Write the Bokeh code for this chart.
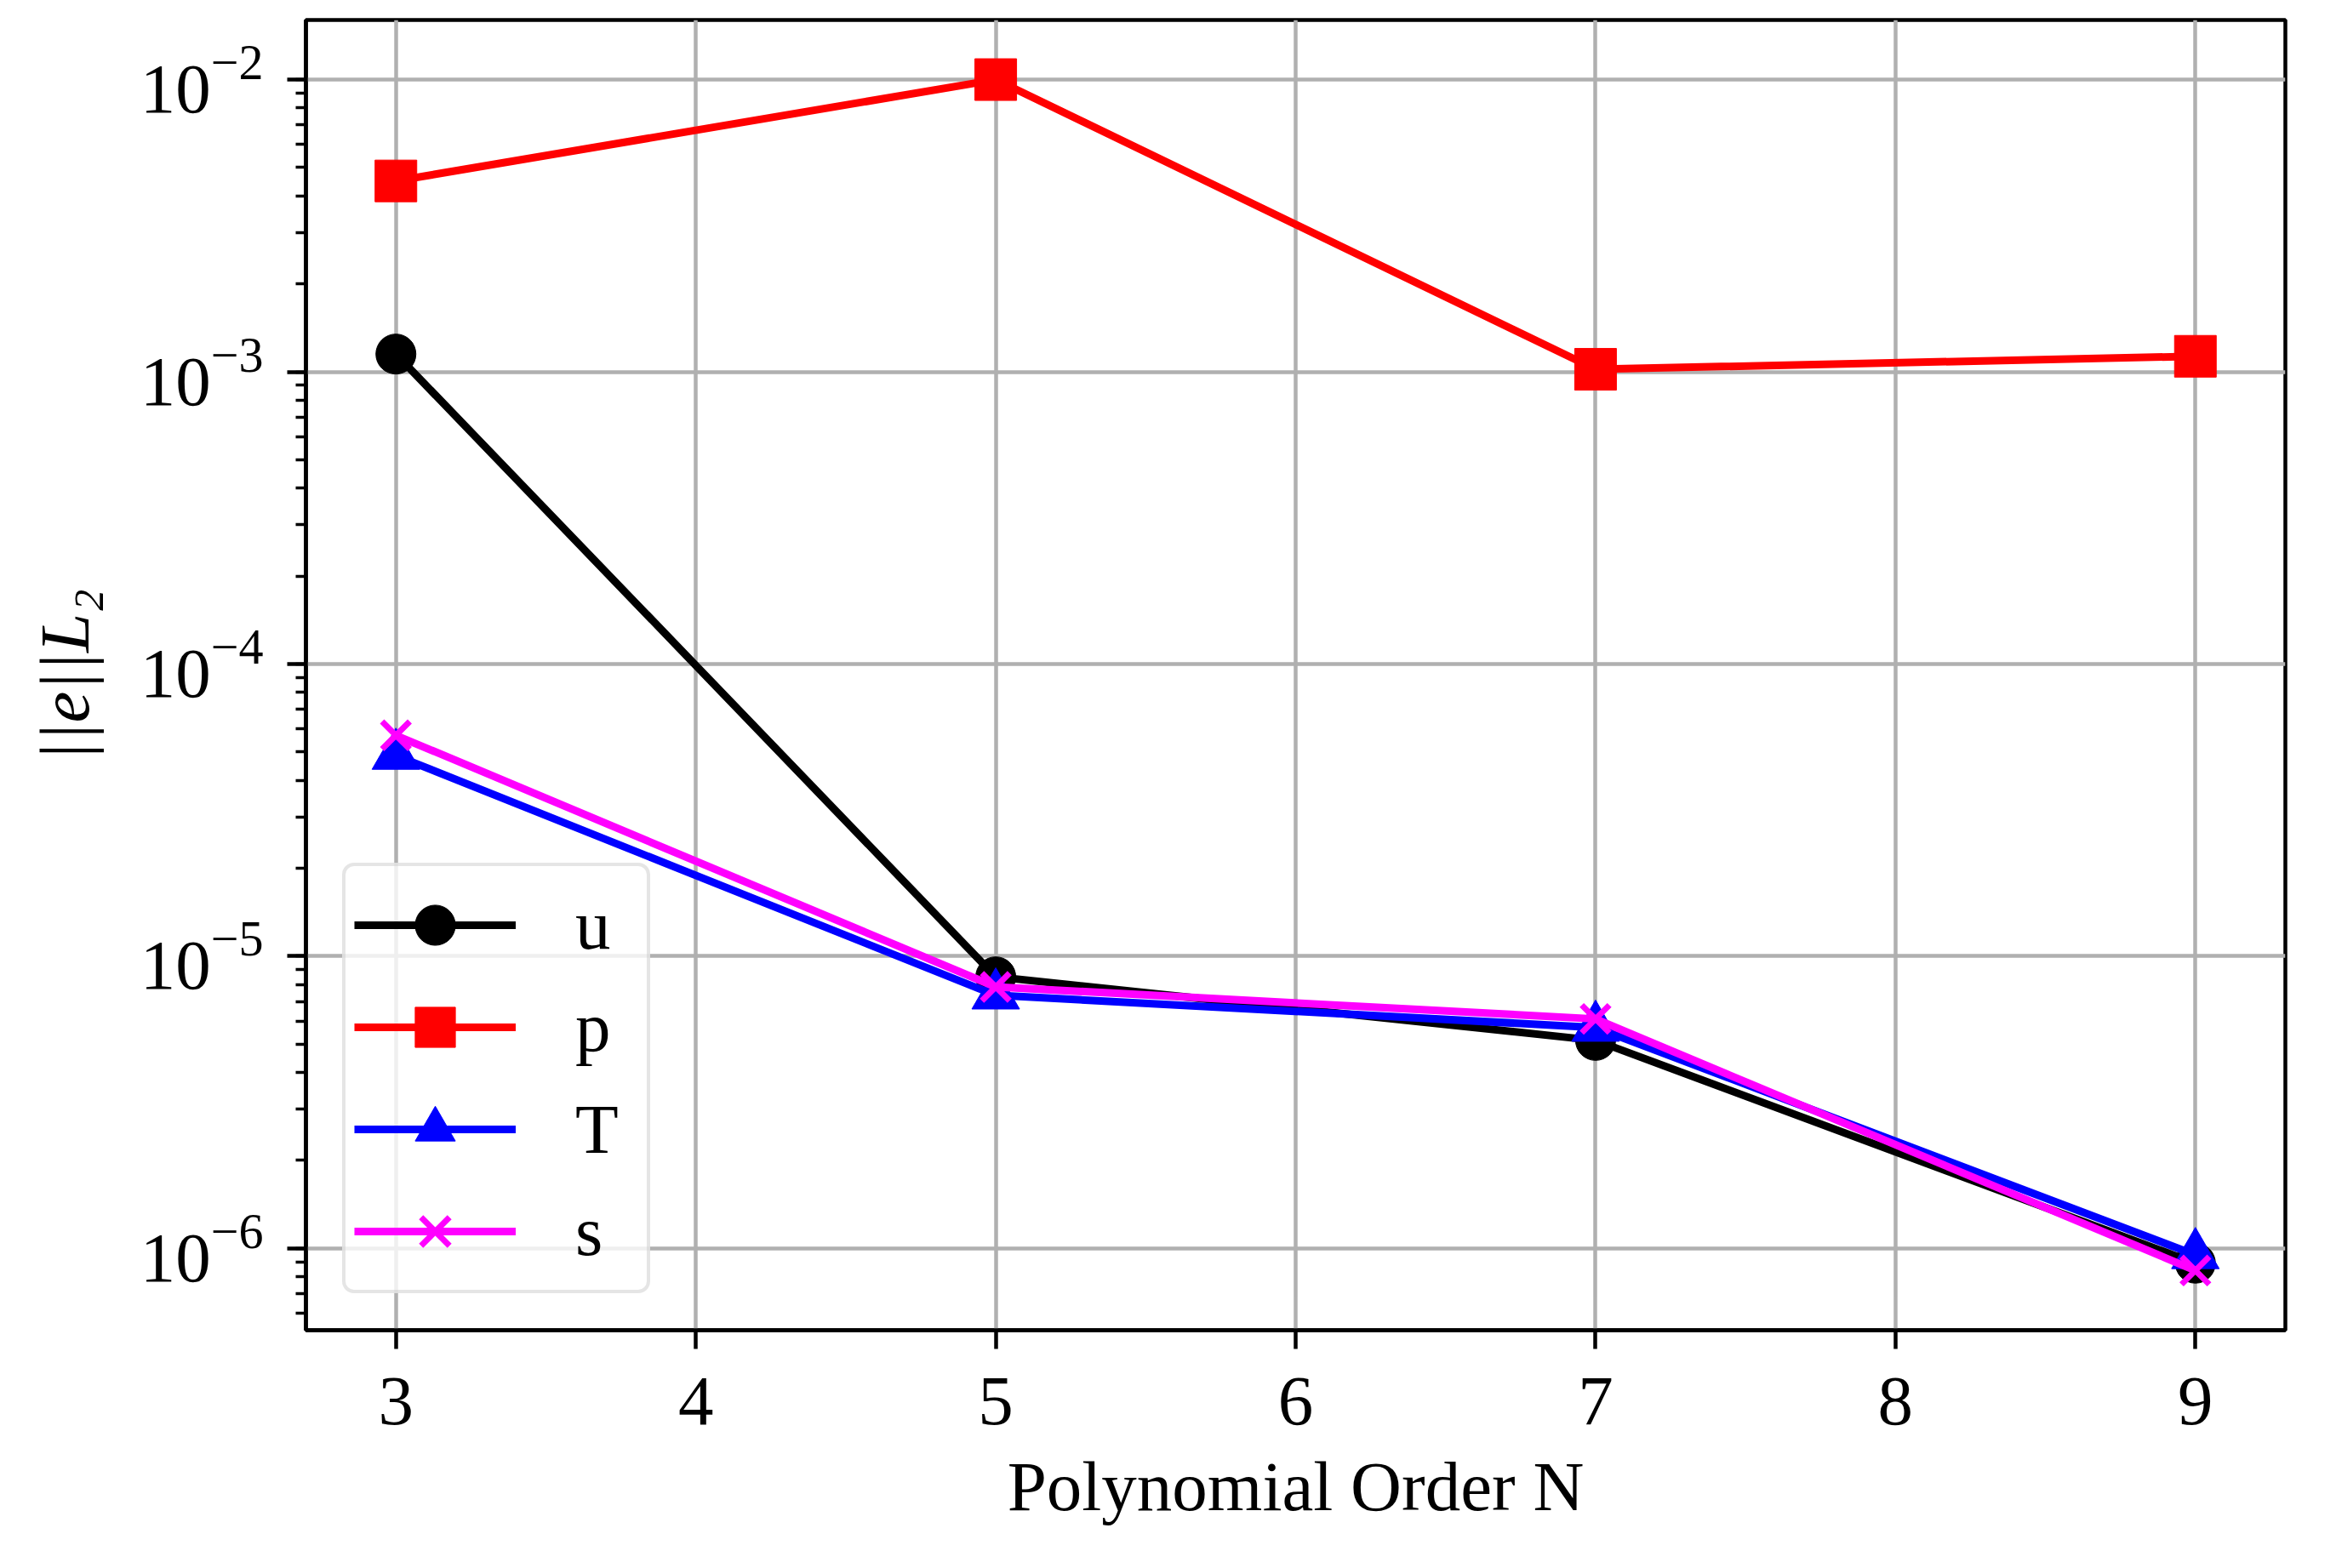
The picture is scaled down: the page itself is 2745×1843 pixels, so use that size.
from bokeh.plotting import figure
from bokeh.models import Range1d
from bokeh.embed import file_html
from bokeh.resources import INLINE

# polynomial order and L2 error of each field
orders = [3, 5, 7, 9]
err_u = [1.15e-3, 8.5e-6, 5.15e-6, 8.9e-7]
err_p = [4.5e-3, 1.0e-2, 1.02e-3, 1.13e-3]
err_T = [4.86e-5, 7.35e-6, 5.7e-6, 9.5e-7]
err_s = [5.7e-5, 7.85e-6, 6.1e-6, 8.4e-7]
x_ticks = [3, 4, 5, 6, 7, 8, 9]

FONT = "'Liberation Serif', 'Times New Roman', serif"

p = figure(
    width=2729, height=1827,
    y_axis_type="log",
    x_range=Range1d(2.7, 9.3),
    y_range=Range1d(10 ** -6.28, 10 ** -1.796),
    output_backend="svg",
    toolbar_location=None,
    min_border_left=359, min_border_right=44,
    min_border_top=23, min_border_bottom=264,
)

series = [
    ("u", err_u, "black", "circle", 47),
    ("p", err_p, "red", "square", 49),
    ("T", err_T, "blue", "triangle", 56),
    ("s", err_s, "magenta", "x", 46),
]
for name, vals, col, marker, size in series:
    p.line(orders, vals, line_width=9, color=col, legend_label=name)
    if marker == "x":
        p.scatter(orders, vals, marker=marker, size=size, line_color=col,
                  line_width=7, legend_label=name)
    else:
        p.scatter(orders, vals, marker=marker, size=size, color=col,
                  legend_label=name)

# frame and grid
p.outline_line_color = "black"
p.outline_line_width = 4.5
p.grid.grid_line_color = "#b0b0b0"
p.grid.grid_line_width = 4.5
p.background_fill_color = "white"
p.border_fill_color = "white"

# axes
p.xaxis.ticker = x_ticks
p.xaxis.axis_label = "Polynomial Order N"
p.yaxis.axis_label = "||e||L₂"
p.xaxis.axis_label_text_font_style = "normal"
p.yaxis.axis_label_text_font_style = "italic"
for ax in (p.xaxis, p.yaxis):
    ax.axis_line_width = 4.5
    ax.axis_line_color = "black"
    ax.major_tick_line_width = 4.5
    ax.major_tick_in = 0
    ax.major_tick_out = 22
    ax.major_label_text_font = FONT
    ax.major_label_text_font_size = "83px"
    ax.major_label_text_color = "black"
    ax.axis_label_text_font = FONT
    ax.axis_label_text_font_size = "83px"
    ax.axis_label_text_color = "black"
p.xaxis.minor_tick_line_color = None
p.xaxis.major_label_standoff = 34
p.xaxis.axis_label_standoff = 24
p.yaxis.minor_tick_line_width = 3.5
p.yaxis.minor_tick_in = 0
p.yaxis.minor_tick_out = 12
p.yaxis.major_label_standoff = 28
p.yaxis.axis_label_standoff = 40

# legend
leg = p.legend[0]
leg.location = "bottom_left"
leg.margin = 43
leg.padding = 10
leg.spacing = 2
leg.glyph_width = 190
leg.glyph_height = 118
leg.label_standoff = 70
leg.label_width = 74
leg.label_text_font = FONT
leg.label_text_font_size = "83px"
leg.label_text_color = "black"
leg.border_line_color = "#cccccc"
leg.border_line_width = 4
leg.background_fill_alpha = 0.8
if "border_radius" in leg.properties():
    leg.border_radius = 14

open("out.html", "w").write(file_html(p, INLINE))
